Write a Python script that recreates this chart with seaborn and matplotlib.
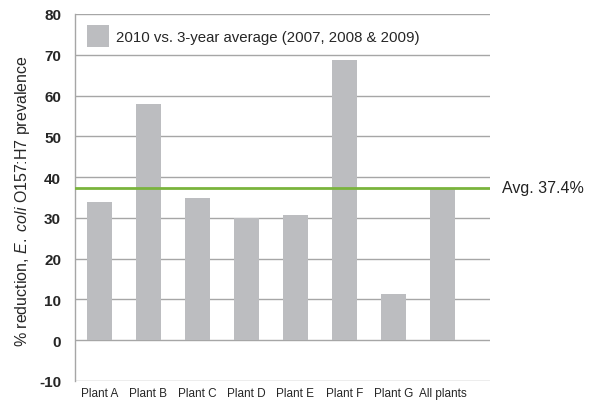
import matplotlib
matplotlib.use("Agg")
import matplotlib.pyplot as plt
import seaborn as sns
import pandas as pd

plants = ["Plant A", "Plant B", "Plant C", "Plant D", "Plant E", "Plant F", "Plant G", "All plants"]
reduction = [33.8, 58.0, 34.9, 29.9, 30.7, 68.7, 11.3, 37.4]
avg_value = 37.4
legend_label = "2010 vs. 3-year average (2007, 2008 & 2009)"

sns.set_style("white")
plt.rcParams["font.family"] = ["Liberation Sans", "DejaVu Sans"]
plt.rcParams["mathtext.fontset"] = "custom"
plt.rcParams["mathtext.it"] = "Liberation Sans:italic"
plt.rcParams["mathtext.rm"] = "Liberation Sans"
plt.rcParams["axes.unicode_minus"] = False

bar_color = "#bcbdc0"
grid_color = "#a6a6a6"
green = "#7ab43c"

df = pd.DataFrame({"plant": plants, "value": reduction})

fig = plt.figure(figsize=(5.97, 4.02), dpi=100)
ax = fig.add_axes([0.1256, 0.0498, 0.695, 0.9129])

for y in range(-10, 81, 10):
    ax.axhline(y, color=grid_color, lw=1.0, zorder=0)

sns.barplot(data=df, x="plant", y="value", color=bar_color, width=0.5,
            saturation=1, linewidth=0, ax=ax, zorder=2, label=legend_label)

ax.axhline(avg_value, color=green, lw=2, zorder=3)
ax.text(1.03, avg_value, "Avg. 37.4%", transform=ax.get_yaxis_transform(),
        va="center", ha="left", fontsize=11.5, color="#222222")

ax.set_ylim(-10, 80)
ax.set_xlim(-0.5, 7.97)
ax.set_yticks(range(-10, 81, 10))
ax.tick_params(axis="y", labelsize=11, length=0, pad=10)
ax.tick_params(axis="x", labelsize=8.5, length=0, pad=4)
for t in ax.get_yticklabels():
    t.set_fontweight("bold")
ax.set_xlabel("")
ax.set_ylabel("")
fig.text(0.037, 0.50, r"% reduction, $\mathit{E.}$ $\mathit{coli}$ O157:H7 prevalence",
         rotation=90, ha="center", va="center", fontsize=11.5)

for s in ["top", "right", "bottom"]:
    ax.spines[s].set_visible(False)
ax.spines["left"].set_color(grid_color)
ax.spines["left"].set_linewidth(1.0)

leg = ax.legend(loc="upper left", frameon=False, fontsize=10.8, handlelength=1.45,
                handleheight=1.8, handletextpad=0.45, borderaxespad=0.0,
                bbox_to_anchor=(0.015, 0.985))

fig.savefig("out.png", dpi=100)
